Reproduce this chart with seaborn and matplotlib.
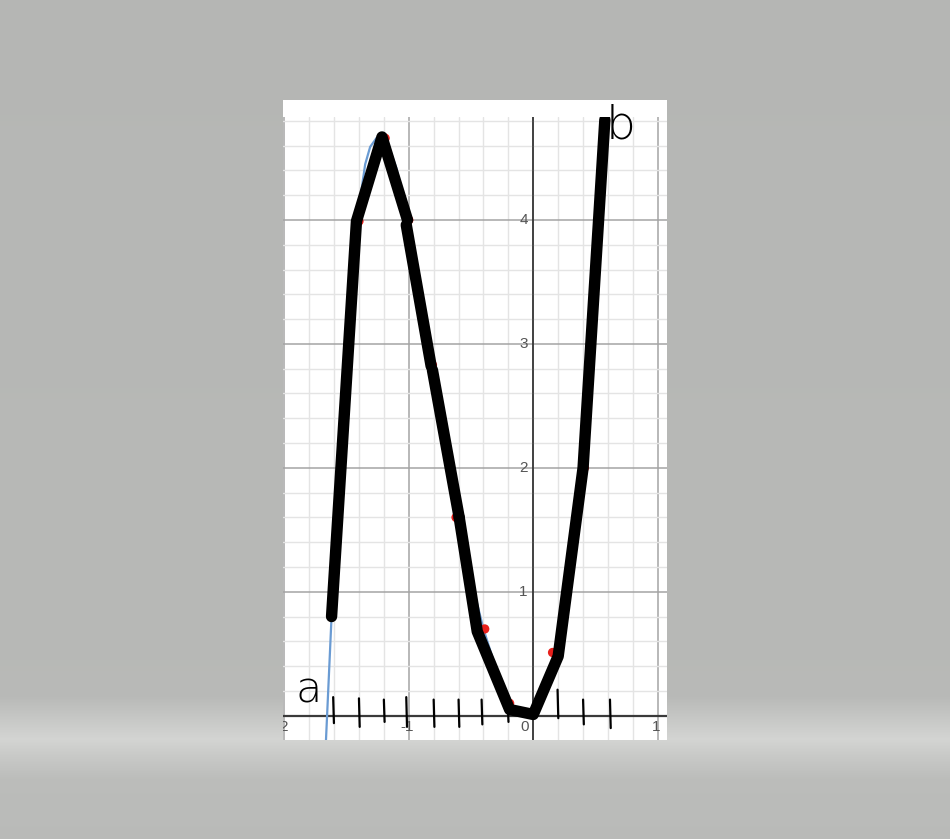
import numpy as np
import pandas as pd
import matplotlib
matplotlib.use("Agg")
import matplotlib.pyplot as plt
from matplotlib.patches import Rectangle
from matplotlib.ticker import MultipleLocator
import seaborn as sns

# blue curve
curve_x = [-1.665, -1.62, -1.55, -1.48, -1.40, -1.35, -1.31, -1.26, -1.22, -1.17, -1.10, -1.00,
           -0.90, -0.80, -0.70, -0.60, -0.50, -0.40, -0.30, -0.20, -0.10, -0.05, 0.0,
           0.10, 0.20, 0.30, 0.40, 0.50, 0.58]
curve_y = [-0.20, 0.80, 2.00, 3.10, 4.10, 4.45, 4.59, 4.66, 4.67, 4.62, 4.42, 4.00,
           3.45, 2.85, 2.20, 1.60, 1.10, 0.70, 0.38, 0.12, 0.02, -0.01, 0.0,
           0.18, 0.50, 1.15, 2.00, 3.20, 4.83]

# red sample points
pts_x = [-1.62, -1.40, -1.19, -1.00, -0.81, -0.62, -0.39, -0.19, 0.155, 0.41, 0.58]
pts_y = [0.80, 3.99, 4.66, 4.00, 2.83, 1.60, 0.70, 0.10, 0.51, 2.00, 4.80]

# hand drawn black strokes (vertices)
stroke_id = [0, 0, 0, 0, 1, 1, 2, 2, 3, 3, 3, 3, 3, 3, 3]
stroke_x = [-1.62, -1.42, -1.215, -1.01, -1.02, -0.82, -0.81, -0.595, -0.595, -0.45, -0.19, 0.0, 0.20, 0.40, 0.575]
stroke_y = [0.80, 3.99, 4.67, 4.00, 3.96, 2.82, 2.79, 1.60, 1.60, 0.68, 0.05, 0.01, 0.48, 2.00, 4.81]

# little hand drawn ticks on the x axis
hand_tick_x = [-1.607, -1.40, -1.20, -1.02, -0.80, -0.60, -0.415, -0.205, 0.195, 0.40, 0.616]
hand_tick_top = [0.15, 0.14, 0.13, 0.15, 0.13, 0.13, 0.13, 0.09, 0.21, 0.13, 0.13]
hand_tick_bot = [-0.06, -0.09, -0.05, -0.09, -0.09, -0.09, -0.07, -0.05, -0.02, -0.07, -0.10]

x_labels = [-2, -1, 0, 1]
y_labels = [1, 2, 3, 4]

sns.set_style("white")

fig = plt.figure(figsize=(9.5, 8.39), dpi=100)

# grey backdrop with a lighter band under the panel
bg = fig.add_axes([0, 0, 1, 1], zorder=-10)
rows = np.linspace(0, 1, 500)
shade = np.interp(rows, [0.0, 0.83, 0.862, 0.882, 0.90, 0.93, 1.0],
                  [0.712, 0.722, 0.79, 0.83, 0.79, 0.735, 0.728])
img = np.stack([shade, shade + 0.004, shade - 0.004], axis=-1)[:, None, :]
img = np.repeat(img, 10, axis=1)
bg.imshow(img, aspect="auto", extent=[0, 1, 0, 1], interpolation="bilinear")
bg.axis("off")

fig.add_artist(Rectangle((283 / 950, 99 / 839), 384 / 950, 640 / 839,
                         transform=fig.transFigure, facecolor="white",
                         edgecolor="none", zorder=-5))

ax = fig.add_axes([283 / 950, 99 / 839, 384 / 950, 623 / 839])
ax.set_facecolor("none")
ax.set_xlim(-2.01, 1.074)
ax.set_ylim(-0.196, 4.831)
for s in ax.spines.values():
    s.set_visible(False)

ax.xaxis.set_major_locator(MultipleLocator(1))
ax.xaxis.set_minor_locator(MultipleLocator(0.2))
ax.yaxis.set_major_locator(MultipleLocator(1))
ax.yaxis.set_minor_locator(MultipleLocator(0.2))
ax.grid(which="minor", color="#e4e4e4", lw=1.0)
ax.grid(which="major", color="#a4a4a4", lw=1.1)
ax.set_axisbelow(True)
ax.tick_params(which="both", length=0, labelbottom=False, labelleft=False)
ax.axhline(0, color="#3a3a3a", lw=1.6, zorder=1)
ax.axvline(0, color="#222222", lw=1.1, zorder=1)

for v in x_labels:
    if v == 0:
        ax.text(-0.035, -0.091, "0", ha="right", va="center", fontsize=11,
                color="#555555", family="Liberation Sans")
    else:
        ax.text(v - 0.015, -0.091, str(v), ha="center", va="center",
                fontsize=11, color="#555555", family="Liberation Sans", clip_on=True)
for v in y_labels:
    ax.text(-0.045, v, str(v), ha="right", va="center", fontsize=11,
            color="#555555", family="Liberation Sans")

curve = pd.DataFrame({"x": curve_x, "y": curve_y})
sns.lineplot(data=curve, x="x", y="y", ax=ax, sort=False, estimator=None,
             color="#6a9bd3", lw=1.6, zorder=2)

pts = pd.DataFrame({"x": pts_x, "y": pts_y})
sns.scatterplot(data=pts, x="x", y="y", ax=ax, color="#e8201c", s=45,
                edgecolor="none", zorder=3)

strokes = pd.DataFrame({"stroke": stroke_id, "x": stroke_x, "y": stroke_y})
sns.lineplot(data=strokes, x="x", y="y", units="stroke", estimator=None, sort=False,
             ax=ax, color="black", lw=8.2, solid_capstyle="round",
             solid_joinstyle="round", zorder=4)

for tx, t0, t1 in zip(hand_tick_x, hand_tick_top, hand_tick_bot):
    ax.plot([tx, tx + 0.006], [t0, t1], color="black", lw=1.6,
            solid_capstyle="round", zorder=5)

ax.text(-1.80, 0.11, "a", ha="center", va="baseline", fontsize=31,
        fontweight="ultralight", color="black", family="DejaVu Sans", clip_on=False)
ax.text(0.705, 4.66, "b", ha="center", va="baseline", fontsize=34,
        fontweight="ultralight", color="black", family="DejaVu Sans", clip_on=False)

ax.set_xlabel("")
ax.set_ylabel("")

fig.savefig("out.png", dpi=100)
